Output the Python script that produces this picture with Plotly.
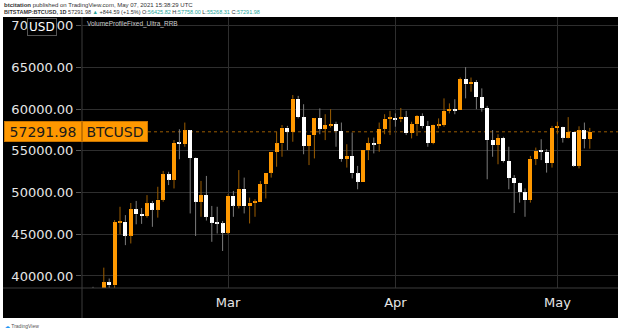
import plotly.graph_objects as go
import pandas as pd

# ---------------- data ----------------
dates = pd.date_range("2021-02-04", "2021-05-07", freq="D")
opens = [37620, 36950, 38250, 39250, 38880, 46450, 46500, 44850, 48000, 47400,
         47200, 48700, 47950, 49150, 52200, 51550, 55950, 55850, 57450, 54150,
         48900, 49700, 47100, 46400, 46300,
         45200, 49650, 48450, 50450, 48350, 48800, 48900, 51000, 52400, 54900,
         55900, 57800, 57300, 61250, 59050, 55600, 56900, 58950, 57650, 58100,
         58200, 57400, 54050, 54400, 52300, 51300, 55100, 55900, 55800, 57650,
         58850,
         58900, 58800, 59050, 57150, 58200, 59200, 58000, 55950, 58100, 58120,
         59800, 60000, 59850, 63600, 63000, 63250, 61450, 60150, 56300, 55700,
         56550, 53800, 51750, 51150, 50050, 49100, 54050, 55050, 54900, 53550,
         57750, 57850, 56600, 57250, 53250, 57450, 56425.82]
highs = [38700, 38300, 41000, 39700, 46700, 48300, 47300, 48750, 49000, 48150,
         49700, 49000, 50700, 52600, 52500, 56300, 57600, 58400, 57500, 54200,
         51400, 52000, 48400, 48300, 46600,
         49800, 50200, 52700, 51800, 49400, 49200, 51400, 52400, 54900, 57300,
         58100, 58000, 61700, 61600, 60600, 56900, 58900, 60100, 59400, 60000,
         58500, 58400, 55800, 57200, 53200, 55100, 56600, 56600, 58400, 59400,
         59800,
         59500, 60150, 59800, 58500, 59300, 59500, 58600, 58150, 58900, 61300,
         60700, 61200, 63800, 65050, 63800, 63500, 62500, 60400, 57500, 57000,
         56700, 55500, 52100, 51200, 50500, 54400, 55400, 56400, 55200, 58000,
         58500, 57900, 59050, 57250, 57950, 58400, 57758.00]
lows = [36200, 36600, 38150, 37400, 37900, 45000, 43700, 43900, 46200, 46250,
        47000, 45900, 47000, 48900, 50900, 50500, 54000, 55500, 47500, 44800,
        47100, 46650, 44100, 45100, 43000,
        45000, 47100, 48100, 47500, 46300, 47100, 48900, 49300, 51800, 53100,
        54300, 55100, 56100, 58900, 54600, 53300, 54100, 57000, 56300, 57800,
        55500, 53700, 53000, 51700, 50400, 51300, 53900, 54700, 54900, 57000,
        56900,
        57900, 58450, 56900, 56500, 56800, 57700, 55500, 55800, 57700, 57900,
        59500, 59400, 59850, 61300, 62100, 60000, 59700, 51600, 54300, 53400,
        53600, 50400, 47550, 48800, 47100, 48800, 53300, 53900, 52400, 53000,
        57000, 56000, 56500, 53100, 52900, 55300, 55268.31]
closes = [36950, 38250, 39250, 38880, 46450, 46500, 44850, 48000, 47400, 47200,
          48700, 47950, 49150, 52200, 51550, 55950, 55850, 57450, 54150, 48900,
          49700, 47100, 46400, 46300, 45200,
          49650, 48450, 50450, 48350, 48800, 48900, 51000, 52400, 54900, 55900,
          57800, 57300, 61250, 59050, 55600, 56900, 58950, 57650, 58100, 58200,
          57400, 54050, 54400, 52300, 51300, 55100, 55900, 55800, 57650, 58850,
          58900,
          58800, 59050, 57150, 58200, 59200, 58000, 55950, 58100, 58120, 59800,
          60000, 59850, 63600, 63000, 63250, 61450, 60150, 56300, 55700, 56550,
          53800, 51750, 51150, 50050, 49100, 54050, 55050, 54900, 53550, 57750,
          57850, 56600, 57250, 53250, 57450, 56425.82, 57291.98]

ytick_vals = [40000, 45000, 50000, 55000, 60000, 65000, 70000]
month_ticks = ["2021-03-01", "2021-04-01", "2021-05-01"]
month_labels = ["Mar", "Apr", "May"]
last_price = 57291.98
symbol = "BTCUSD"
currency = "USD"
header1 = "<b>btcitation</b> published on TradingView.com, May 07, 2021 15:38:29 UTC"
header2 = ("<b>BITSTAMP:BTCUSD, 1D</b> 57291.98 <span style='color:#26a69a'>▲</span> +844.59 (+1.5%) "
           "O:<span style='color:#26a69a'>56425.82</span> H:<span style='color:#26a69a'>57758.00</span> "
           "L:<span style='color:#26a69a'>55268.31</span> C:<span style='color:#26a69a'>57291.98</span>")
indicator = "VolumeProfileFixed_Ultra_RRB"

# ---------------- layout geometry ----------------
W, H = 620, 332
L, R, T, B = 82, 2, 17, 44
pw, ph = W - L - R, H - T - B


def px(p):
    return (p - L) / pw


def py(p):
    return (H - B - p) / ph


UP, DOWN = "#ff9800", "#ffffff"
UPW, DNW = "#9c5d00", "#7c7c7c"
GRID = "#2e2e2e"
FONT = "DejaVu Sans"

fig = go.Figure()

# wicks (split above/below body so they don't cross the bodies)
for is_up, col in ((True, UPW), (False, DNW)):
    xs, ys = [], []
    for d, o, h, l, c in zip(dates, opens, highs, lows, closes):
        if (c >= o) != is_up:
            continue
        lo_b, hi_b = min(o, c), max(o, c)
        xs += [d, d, None, d, d, None]
        ys += [l, lo_b, None, hi_b, h, None]
    fig.add_trace(go.Scatter(x=xs, y=ys, mode="lines", line=dict(color=col, width=1),
                             hoverinfo="skip", showlegend=False))

# bodies
base = [min(o, c) for o, c in zip(opens, closes)]
height = [max(abs(c - o), 120) for o, c in zip(opens, closes)]
colors = [UP if c >= o else DOWN for o, c in zip(opens, closes)]
fig.add_trace(go.Bar(x=dates, y=height, base=base, width=0.72 * 86400000,
                     marker=dict(color=colors, line=dict(width=0)),
                     showlegend=False, hoverinfo="skip"))

start = pd.Timestamp("2021-03-01") - pd.Timedelta(days=(228 - L) / 5.4)
end = start + pd.Timedelta(days=pw / 5.4)

fig.update_layout(
    width=W, height=H,
    margin=dict(l=L, r=R, t=T, b=B, pad=0),
    paper_bgcolor="white", plot_bgcolor="black",
    bargap=0,
    xaxis=dict(type="date", range=[start, end], tickvals=month_ticks, ticktext=month_labels,
               showgrid=True, gridcolor=GRID, gridwidth=1, zeroline=False, showline=False,
               ticks="", ticklabelstandoff=5,
               tickfont=dict(family=FONT, size=13, color="#e6e6e6")),
    yaxis=dict(range=[38560, 71060], tickvals=ytick_vals, tickformat=".2f",
               showgrid=True, gridcolor=GRID, gridwidth=1, zeroline=False, showline=False,
               ticks="outside", ticklen=5, tickcolor="#555555",
               tickfont=dict(family=FONT, size=13, color="#e6e6e6")),
    font=dict(family=FONT),
)

shapes = [
    dict(type="rect", xref="paper", yref="paper", x0=px(3), x1=px(618), y0=py(318), y1=py(17),
         fillcolor="black", line=dict(width=0), layer="below"),
    dict(type="line", xref="paper", yref="paper", x0=px(82), x1=px(82), y0=py(318), y1=py(17),
         line=dict(color="#3c3c3c", width=1), layer="above"),
    dict(type="line", xref="paper", yref="paper", x0=px(3), x1=px(618), y0=py(288), y1=py(288),
         line=dict(color="#3c3c3c", width=1), layer="above"),
    dict(type="line", xref="paper", yref="y", x0=0, x1=1, y0=last_price, y1=last_price,
         line=dict(color="rgba(255,152,0,0.6)", width=1, dash="dot"), layer="below"),
]
fig.update_layout(shapes=shapes)

ann = [
    dict(text=header1, x=px(2), y=py(5), xanchor="left", yanchor="middle",
         font=dict(family="Liberation Sans", size=6, color="#333333")),
    dict(text=header2, x=px(2), y=py(12), xanchor="left", yanchor="middle",
         font=dict(family="Liberation Sans", size=5.5, color="#333333")),
    dict(text=indicator, x=px(85), y=py(24), xanchor="left", yanchor="middle",
         font=dict(family="Liberation Sans", size=6.5, color="#cfcfcf")),
    dict(text=currency, x=px(41.5), y=py(27), xanchor="center", yanchor="middle",
         bgcolor="black", bordercolor="#555555", borderwidth=1, borderpad=1,
         font=dict(family=FONT, size=12, color="#ffffff")),
    dict(text=f"{last_price:.2f}", x=px(4), y=py(131.5), xanchor="left", yanchor="middle",
         width=74, height=17, bgcolor=UP, bordercolor="#c87400", borderwidth=1, borderpad=1,
         font=dict(family=FONT, size=14, color="#1a1a1a")),
    dict(text=symbol, x=px(82), y=py(131.5), xanchor="left", yanchor="middle",
         width=62, height=17, bgcolor=UP, bordercolor="#c87400", borderwidth=1, borderpad=1,
         font=dict(family=FONT, size=14, color="#1a1a1a")),
    dict(text="<span style='color:#2196f3'>☁</span> TradingView", x=px(3), y=py(326),
         xanchor="left", yanchor="middle",
         font=dict(family="Liberation Sans", size=5, color="#555555")),
]
for a in ann:
    a.update(xref="paper", yref="paper", showarrow=False)
fig.update_layout(annotations=ann)

fig.write_html("out.html")
